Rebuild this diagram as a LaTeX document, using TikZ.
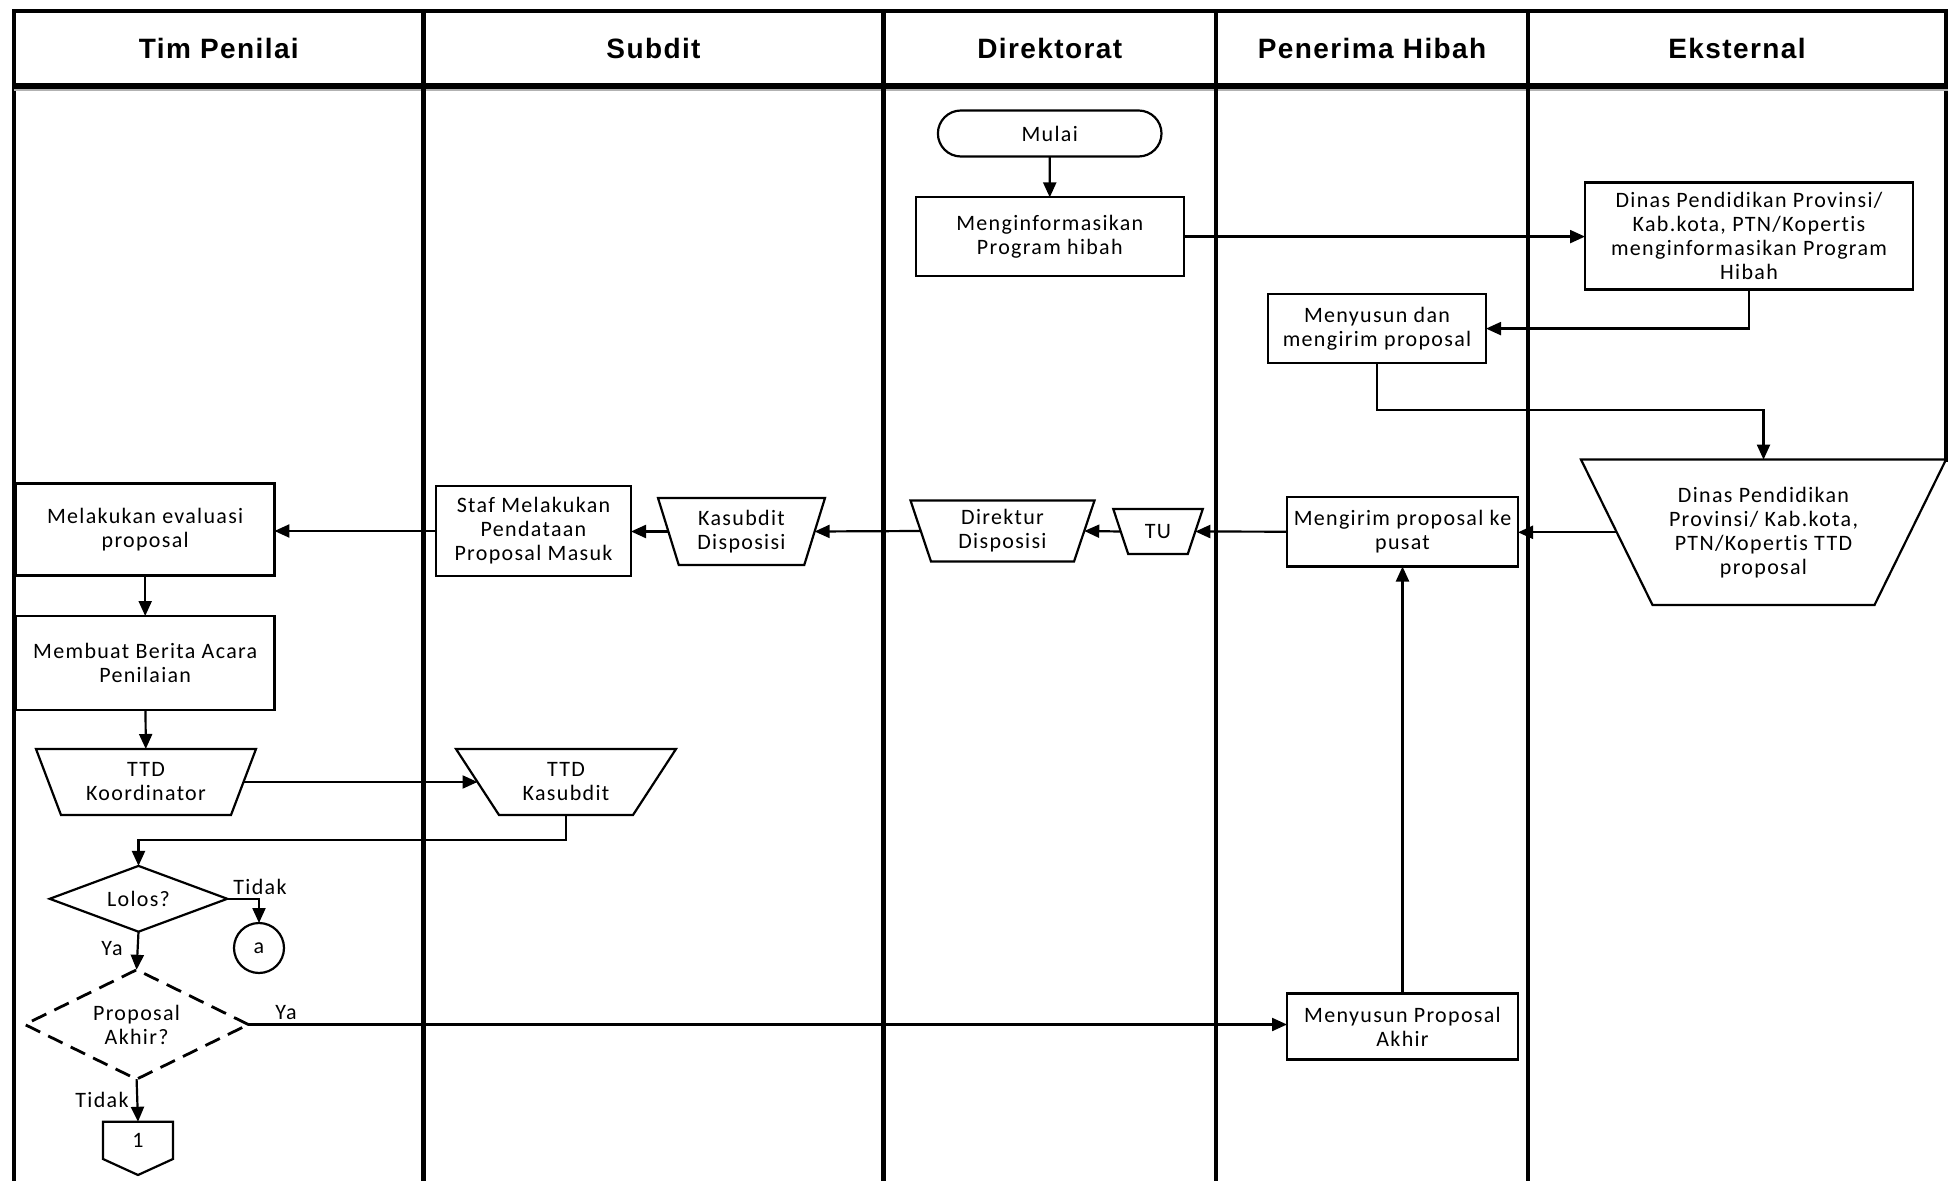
\documentclass[tikz,border=0pt]{standalone}
\usepackage{fontspec}
\setmainfont{Carlito}
\newfontfamily\headfont[LetterSpace=5]{Liberation Sans}
\newfontfamily\bodyfont[LetterSpace=6,Ligatures=NoCommon]{Carlito}
\usetikzlibrary{shapes.geometric,arrows.meta,calc}

% trapezoid (wide side up): name, cx, cy, top width, bottom width, height, text
\newcommand\trapnode[7]{%
  \node[txt, minimum width=#4*0.5pt, minimum height=#6*0.5pt] (#1) at (#2,#3) {#7};
  \draw[shapeline] (#1.north west) -- (#1.north east)
    -- ($(#1.south east)+({-(#4-#5)/2},0)$) -- ($(#1.south west)+({(#4-#5)/2},0)$) -- cycle;
  \coordinate (#1-w) at ($(#1.west)+({(#4-#5)/4},0)$);
  \coordinate (#1-e) at ($(#1.east)+({-(#4-#5)/4},0)$);
}

\begin{document}
\begin{tikzpicture}[x=0.5pt,y=-0.5pt,
  frame/.style={line width=2.2pt, line cap=rect},
  head/.style={font=\headfont\bfseries\fontsize{14}{16}\selectfont},
  txt/.style={align=center, inner sep=0pt, outer sep=0pt,
    font=\bodyfont\fontsize{11}{12}\selectfont},
  shapeline/.style={line width=1.1pt, line join=miter},
  box/.style={txt, draw, fill=white, line width=1.1pt},
  decision/.style={txt, draw, fill=white, line width=1.1pt, shape=diamond, aspect=2},
  lbl/.style={font=\bodyfont\fontsize{11}{12}\selectfont, inner sep=0pt},
  flow/.style={-{Triangle[length=7.5pt,width=6.5pt]}, line width=1.1pt}]
\useasboundingbox (0,0) rectangle (1948,1181);

% swimlane frame
\draw[frame] (14,11) -- (1948,11);
\draw[frame] (14,11) -- (14,1181);
\draw[frame] (1946,11) -- (1946,459.6);
\draw[line width=2.6pt] (14,86) -- (1948,86);
\draw[gray!60, line width=1pt] (14,90) -- (1948,90);
\foreach \lx in {423.6,883.3,1216.2,1528}
  \draw[frame] (\lx,11) -- (\lx,1181);

\node[head] (h1) at (218.8,48.5) {Tim Penilai};
\node[head] (h2) at (653.5,48.5) {Subdit};
\node[head] (h3) at (1049.8,48.5) {Direktorat};
\node[head] (h4) at (1372.1,48.5) {Penerima Hibah};
\node[head] (h5) at (1737,48.5) {Eksternal};

% Direktorat
\node[box, rounded corners=11.5pt, minimum width=111.8pt, minimum height=23pt]
  (mulai) at (1049.7,133.5) {Mulai};
\node[box, minimum width=134.2pt, minimum height=39.2pt]
  (info) at (1049.8,236.6) {Menginformasikan\\Program hibah};
\trapnode{dir}{1002.5}{531}{184}{143}{61}{Direktur\\Disposisi}

% Penerima Hibah
\node[box, minimum width=109pt, minimum height=34.2pt]
  (susun) at (1377,328.6) {Menyusun dan\\mengirim proposal};
\node[box, minimum width=115.5pt, minimum height=34.8pt]
  (mengirim) at (1402.5,531.7) {Mengirim proposal ke\\pusat};
\trapnode{tu}{1158}{531.5}{89.5}{59.6}{45}{TU}
\node[box, minimum width=115.5pt, minimum height=33pt]
  (akhir) at (1402.5,1026.5) {Menyusun Proposal\\Akhir};

% Eksternal
\node[box, minimum width=164pt, minimum height=53.5pt]
  (dinas1) at (1749,236) {Dinas Pendidikan Provinsi/\\Kab.kota, PTN/Kopertis\\menginformasikan Program\\Hibah};
\trapnode{dinas2}{1763.5}{532.3}{365}{222}{145.4}{Dinas Pendidikan\\Provinsi/ Kab.kota,\\PTN/Kopertis TTD\\proposal}

% Subdit
\trapnode{kd}{741.5}{531.5}{167}{125.5}{67}{Kasubdit\\Disposisi}
\node[box, minimum width=97.5pt, minimum height=45.2pt]
  (staf) at (533.5,531) {Staf Melakukan\\Pendataan\\Proposal Masuk};
\trapnode{ttdkas}{566}{782}{220}{134}{66}{TTD\\Kasubdit}

% Tim Penilai
\node[box, minimum width=129.2pt, minimum height=46pt]
  (eval) at (145.2,529.5) {Melakukan evaluasi\\proposal};
\node[box, minimum width=129.2pt, minimum height=46.8pt]
  (berita) at (145.2,662.8) {Membuat Berita Acara\\Penilaian};
\trapnode{ttdk}{146}{782}{220}{170}{66}{TTD\\Koordinator}
\node[decision, minimum width=88.8pt, minimum height=32.9pt]
  (lolos) at (138.5,898.8) {Lolos?};
\node[txt, draw, fill=white, line width=1.1pt, circle, minimum size=25pt]
  (a) at (259,948) {a};
\node[decision, dashed, dash pattern=on 8pt off 4.5pt, line width=1.4pt,
  minimum width=111.8pt, minimum height=54.7pt]
  (pa) at (136.6,1024.5) {Proposal\\Akhir?};
\node[txt, minimum width=35pt, minimum height=18.6pt] (off) at (138,1140.4) {1};
\draw[shapeline] (off.south west) -- (off.north west) -- (off.north east)
  -- (off.south east) -- ($(off.south)+(0,16)$) -- cycle;

% connectors
\draw[flow] (mulai) -- (info);
\draw[flow] (info.east) -- (info.east -| dinas1.west);
\draw[flow] (dinas1.south) |- (susun.east);
\draw[flow] (susun.south) -- ++(0,47.2) -| (dinas2.north);
\draw[flow] (dinas2-w) -- (dinas2-w -| mengirim.east);
\draw[flow] (mengirim.west) -- (tu-e);
\draw[flow] (tu-w) -- (dir-e);
\draw[flow] (dir-w) -- (kd-e);
\draw[flow] (kd-w) -- (kd-w -| staf.east);
\draw[flow] (staf.west) -- (staf.west -| eval.east);
\draw[flow] (eval) -- (berita);
\draw[flow] (berita) -- (ttdk);
\draw[flow] (ttdk-e) -- (ttdkas-w);
\draw[flow] (ttdkas.south) -- ++(0,24.8) -| (lolos.north);
\draw[flow] (lolos.east) -| (a.north);
\draw[flow] (lolos.south) -- (pa.north);
\draw[flow] (pa.east) -- (pa.east -| akhir.west);
\draw[flow] (pa.south) -- (off.north);
\draw[flow] (akhir.north) -- (mengirim.south);

% branch labels
\node[lbl] (t1) at (260,887) {Tidak};
\node[lbl] (y1) at (112,948.5) {Ya};
\node[lbl] (y2) at (286,1012.5) {Ya};
\node[lbl] (t2) at (102,1100) {Tidak};
\end{tikzpicture}
\end{document}
